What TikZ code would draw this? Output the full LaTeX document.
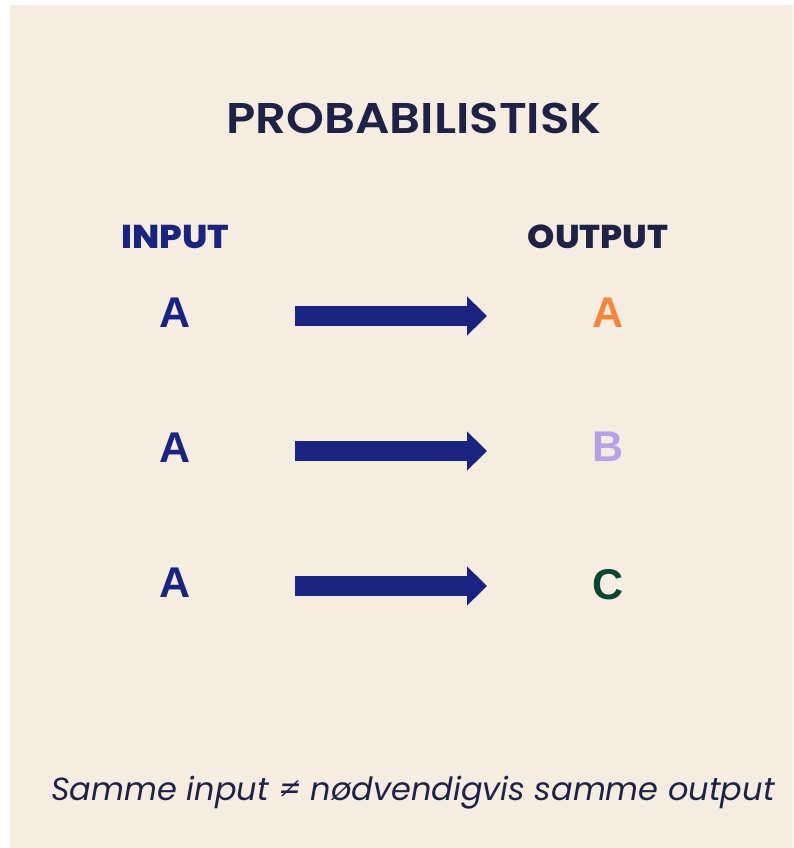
\documentclass[tikz,border=0pt]{standalone}
\usepackage{fontspec}
\usetikzlibrary{arrows.meta}
\setmainfont{Liberation Sans}
\newfontfamily\popsemi{Poppins SemiBold}
\newfontfamily\popblack{Poppins ExtraBold}
\newfontfamily\popital{Poppins Italic}
\newfontfamily\arialbold{Liberation Sans Bold}
\definecolor{bg}{HTML}{F5EDE1}
\definecolor{navy}{HTML}{1A237E}
\definecolor{ink}{HTML}{1F2244}
\definecolor{orangeA}{HTML}{F5873C}
\definecolor{lilac}{HTML}{B7A2E6}
\definecolor{darkgreen}{HTML}{0A4530}
\tikzset{
  letter/.style={inner sep=0pt, font=\arialbold\fontsize{43}{43}\selectfont},
  header/.style={inner sep=0pt, font=\popblack\fontsize{33}{33}\selectfont},
  bigarrow/.style={navy, line width=20pt, -{Triangle[length=20pt,width=38pt]}},
}
\begin{document}
\begin{tikzpicture}[x=1pt,y=-1pt]
\useasboundingbox (0,0) rectangle (793,848);
\fill[white] (0,0) rectangle (793,848);
\fill[bg] (10,5) rectangle (793,848);
\node[inner sep=0pt, text=ink, font=\popsemi\fontsize{43}{43}\selectfont] (title) at (414,118) {\scalebox{1.12}[1]{PROBABILISTISK}};
\node[header, text=navy] (in) at (175,237) {\scalebox{1.08}[1]{INPUT}};
\node[header, text=ink] (out) at (598,237) {\scalebox{1.05}[1]{OUTPUT}};
\node[letter, text=navy] (a1) at (175,313) {A};
\node[letter, text=navy] (a2) at (175,448) {A};
\node[letter, text=navy] (a3) at (175,583) {A};
\node[letter, text=orangeA] (o1) at (608,313) {A};
\node[letter, text=lilac] (o2) at (608,447) {B};
\node[letter, text=darkgreen] (o3) at (608,585) {C};
\draw[bigarrow] ([xshift=120pt,yshift=-3pt]a1.center) -- ([xshift=-121pt,yshift=-3pt]o1.center);
\draw[bigarrow] ([xshift=120pt,yshift=-3pt]a2.center) -- ([xshift=-121pt,yshift=-4pt]o2.center);
\draw[bigarrow] ([xshift=120pt,yshift=-3pt]a3.center) -- ([xshift=-121pt,yshift=-1pt]o3.center);
\node[inner sep=0pt, anchor=base, text=ink, font=\popital\fontsize{32}{32}\selectfont] (note) at (413,800) {Samme input ≠ nødvendigvis samme output};
\end{tikzpicture}
\end{document}
